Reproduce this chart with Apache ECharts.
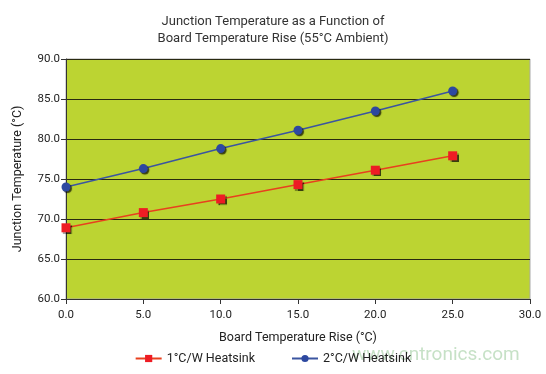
<!DOCTYPE html>
<html><head><meta charset="utf-8">
<script src="https://cdn.jsdelivr.net/npm/echarts@6/dist/echarts.min.js"></script>
<style>html,body{margin:0;padding:0;background:#fff}#c{width:546px;height:374px}</style>
</head><body><div id="c"></div>
<script>
const xValues = [0, 5, 10, 15, 20, 25];
const heatsink1 = [68.9, 70.8, 72.5, 74.3, 76.1, 77.9];
const heatsink2 = [74.0, 76.3, 78.8, 81.1, 83.5, 86.0];
const seriesNames = ['1°C/W Heatsink', '2°C/W Heatsink'];

const chart = echarts.init(document.getElementById('c'));
const font = 'Roboto, "Open Sans", sans-serif';
chart.setOption({
  animation: false,
  textStyle: { fontFamily: font },
  title: {
    text: 'Junction Temperature as a Function of\nBoard Temperature Rise (55°C Ambient)',
    left: 'center', top: 8,
    textStyle: { fontSize: 13, fontWeight: 'normal', color: '#333', lineHeight: 17, fontFamily: font }
  },
  legend: {
    bottom: 4, left: 'center', itemGap: 36, itemWidth: 26, itemHeight: 9,
    textStyle: { fontSize: 12.5, color: '#222', fontFamily: font },
    data: seriesNames
  },
  grid: { left: 66, right: 16, top: 59, bottom: 75, backgroundColor: '#bcd432', show: true, borderColor: '#aaa', borderWidth: 1 },
  xAxis: {
    type: 'value', min: 0, max: 30, interval: 5,
    name: 'Board Temperature Rise (°C)', nameLocation: 'middle', nameGap: 32,
    nameTextStyle: { fontSize: 12.5, color: '#222' },
    axisLine: { lineStyle: { color: '#333' } },
    axisTick: { show: true, lineStyle: { color: '#333' } },
    axisLabel: { formatter: v => v.toFixed(1), color: '#222', fontSize: 11.5, margin: 10 },
    splitLine: { show: false }
  },
  yAxis: {
    type: 'value', min: 60, max: 90, interval: 5,
    name: 'Junction Temperature (°C)', nameLocation: 'middle', nameGap: 42,
    nameTextStyle: { fontSize: 12.5, color: '#222' },
    axisLine: { show: true, lineStyle: { color: '#333' } },
    axisTick: { show: true, lineStyle: { color: '#333' } },
    axisLabel: { formatter: v => v.toFixed(1), color: '#222', fontSize: 11.5, margin: 6 },
    splitLine: { lineStyle: { color: '#2a2a10', width: 1 } }
  },
  series: [
    {
      name: seriesNames[0], type: 'line', data: xValues.map((x, i) => [x, heatsink1[i]]),
      symbol: 'rect', symbolSize: 9,
      lineStyle: { color: '#e8401e', width: 1.5 },
      itemStyle: { color: '#ee1c24', shadowColor: 'rgba(0,0,0,0.7)', shadowOffsetX: 1.5, shadowOffsetY: 1.5, shadowBlur: 1 }
    },
    {
      name: seriesNames[1], type: 'line', data: xValues.map((x, i) => [x, heatsink2[i]]),
      symbol: 'circle', symbolSize: 9,
      lineStyle: { color: '#3b55a0', width: 1.5 },
      itemStyle: { color: '#2d48a0', shadowColor: 'rgba(0,0,0,0.7)', shadowOffsetX: 1.5, shadowOffsetY: 1.5, shadowBlur: 1 }
    }
  ],
  graphic: [{
    type: 'text', left: 352, top: 346, z: -10,
    style: { text: 'www.cntronics.com', fontSize: 19, fill: 'rgba(160,205,160,0.6)', fontFamily: font }
  }]
});
</script></body></html>
